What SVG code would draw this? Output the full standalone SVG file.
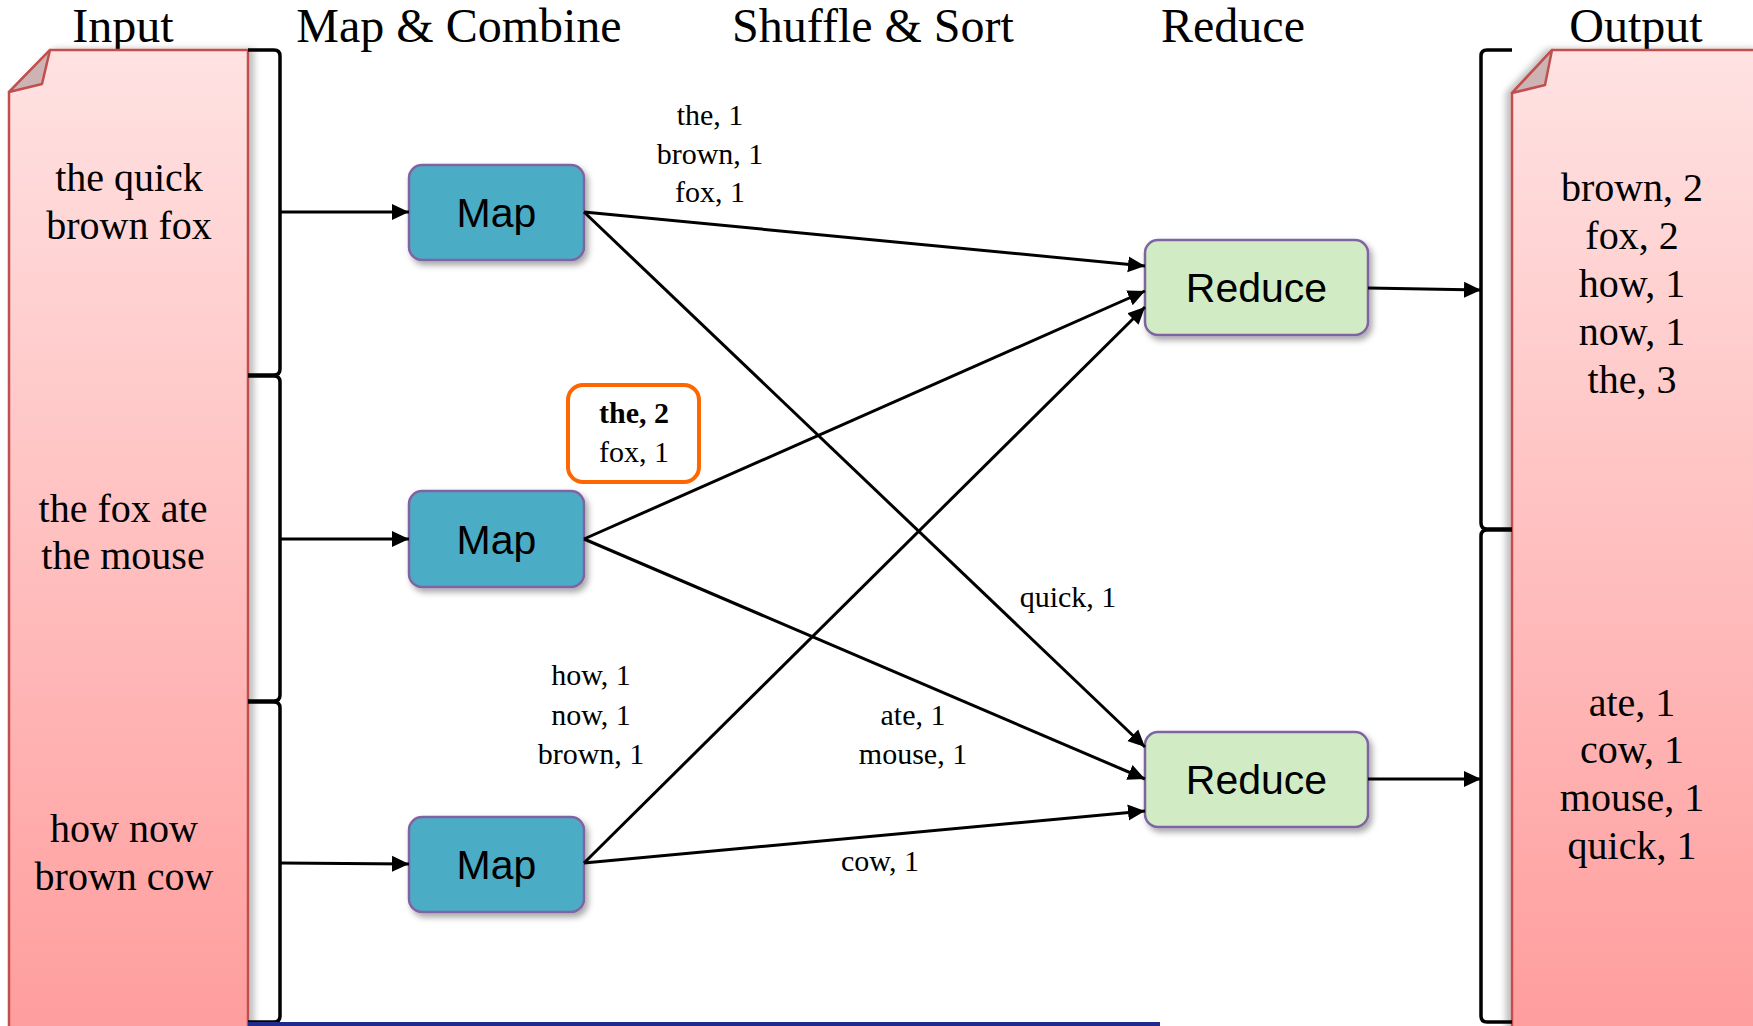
<svg xmlns="http://www.w3.org/2000/svg" width="1753" height="1026" viewBox="0 0 1753 1026">
<style>
.hdr{font-family:"Liberation Serif","Times New Roman",serif;font-size:48px;fill:#000;text-anchor:middle}
.doctext{font-family:"Liberation Serif","Times New Roman",serif;font-size:40px;fill:#000;text-anchor:middle}
.lbl{font-family:"Liberation Serif","Times New Roman",serif;font-size:30px;fill:#000;text-anchor:middle}
.box{font-family:"Liberation Sans",Arial,sans-serif;font-size:41px;fill:#000;text-anchor:middle}
.doc{fill:url(#docg);stroke:#C0504D;stroke-width:2.5}
.fold{fill:#CDB3B3;stroke:#C0504D;stroke-width:2.5;stroke-linejoin:round}
.brace{fill:none;stroke:#000;stroke-width:3.5}
.map{fill:#4BACC6;stroke:#8064A2;stroke-width:2.5}
.red{fill:#D1ECC5;stroke:#8064A2;stroke-width:2.5}
.edge{stroke:#000;stroke-width:3;fill:none;marker-end:url(#arr)}
</style>
<defs>
<linearGradient id="docg" x1="0" y1="0" x2="0" y2="1">
<stop offset="0" stop-color="#FFE2E2"/>
<stop offset="1" stop-color="#FF9D9D"/>
</linearGradient>
<filter id="sh" x="-20%" y="-20%" width="140%" height="150%">
<feDropShadow dx="3" dy="4" stdDeviation="3" flood-color="#000" flood-opacity="0.35"/>
</filter>
<filter id="shR" x="-10%" y="-5%" width="130%" height="110%">
<feDropShadow dx="5" dy="0" stdDeviation="3" flood-color="#000" flood-opacity="0.25"/>
</filter>
<filter id="shL" x="-20%" y="-5%" width="130%" height="110%">
<feDropShadow dx="-5" dy="0" stdDeviation="3" flood-color="#000" flood-opacity="0.25"/>
</filter>
<marker id="arr" markerUnits="userSpaceOnUse" markerWidth="18" markerHeight="18" refX="17" refY="8" orient="auto" viewBox="0 0 18 16">
<path d="M0,0 L17,8 L0,16 Z" fill="#000"/>
</marker>
</defs>
<rect width="1753" height="1026" fill="#fff"/>

<g id="headers">
<text class="hdr" x="123" y="42">Input</text>
<text class="hdr" x="459" y="42">Map &amp; Combine</text>
<text class="hdr" x="873" y="42">Shuffle &amp; Sort</text>
<text class="hdr" x="1233" y="42">Reduce</text>
<text class="hdr" x="1636" y="42">Output</text>
</g>

<g id="input">
<path class="doc" filter="url(#shR)" d="M50,50 L248,50 L248,1030 L9,1030 L9,92 Z"/>
<path class="fold" d="M50,50 L42,84 L9,92 Z"/>
<text class="doctext" x="129" y="191">the quick</text>
<text class="doctext" x="129" y="239">brown fox</text>
<text class="doctext" x="123" y="522">the fox ate</text>
<text class="doctext" x="123" y="569">the mouse</text>
<text class="doctext" x="124" y="842">how now</text>
<text class="doctext" x="124" y="890">brown cow</text>
</g>

<g id="input-brace">
<path class="brace" d="M248,50 L274,50 Q280,50 280,56 L280,369 Q280,375 274,375 L248,375"/>
<path class="brace" d="M248,376 L274,376 Q280,376 280,382 L280,695 Q280,701 274,701 L248,701"/>
<path class="brace" d="M248,702 L274,702 Q280,702 280,708 L280,1016 Q280,1022 274,1022 L248,1022"/>
</g>

<g id="output">
<path class="doc" filter="url(#shL)" d="M1552,50 L1760,50 L1760,1030 L1512,1030 L1512,93 Z"/>
<path class="fold" d="M1552,50 L1545,85 L1512,93 Z"/>
<text class="doctext" x="1632" y="201">brown, 2</text>
<text class="doctext" x="1632" y="249">fox, 2</text>
<text class="doctext" x="1632" y="297">how, 1</text>
<text class="doctext" x="1632" y="345">now, 1</text>
<text class="doctext" x="1632" y="393">the, 3</text>
<text class="doctext" x="1632" y="716">ate, 1</text>
<text class="doctext" x="1632" y="763">cow, 1</text>
<text class="doctext" x="1632" y="811">mouse, 1</text>
<text class="doctext" x="1632" y="859">quick, 1</text>
</g>

<g id="output-brace">
<path class="brace" d="M1512,50 L1487,50 Q1481,50 1481,56 L1481,523 Q1481,529 1487,529 L1512,529"/>
<path class="brace" d="M1512,530 L1487,530 Q1481,530 1481,536 L1481,1016 Q1481,1022 1487,1022 L1512,1022"/>
</g>

<g id="map1">
<rect class="map" filter="url(#sh)" x="409" y="165" width="175" height="95" rx="13"/>
<text class="box" x="496.5" y="227">Map</text>
</g>
<g id="map2">
<rect class="map" filter="url(#sh)" x="409" y="491" width="175" height="96" rx="13"/>
<text class="box" x="496.5" y="554">Map</text>
</g>
<g id="map3">
<rect class="map" filter="url(#sh)" x="409" y="817" width="175" height="95" rx="13"/>
<text class="box" x="496.5" y="879">Map</text>
</g>
<g id="reduce1">
<rect class="red" filter="url(#sh)" x="1145" y="240" width="223" height="95" rx="13"/>
<text class="box" x="1256.5" y="302">Reduce</text>
</g>
<g id="reduce2">
<rect class="red" filter="url(#sh)" x="1145" y="732" width="223" height="95" rx="13"/>
<text class="box" x="1256.5" y="794">Reduce</text>
</g>

<g id="combiner">
<rect x="568" y="385" width="131" height="97" rx="15" fill="#fff" stroke="#FF6600" stroke-width="4"/>
<text class="lbl" x="634" y="423" font-weight="bold">the, 2</text>
<text class="lbl" x="634" y="462">fox, 1</text>
</g>

<g id="connectors">
<line class="edge" x1="280" y1="212" x2="409" y2="212"/>
<line class="edge" x1="280" y1="539" x2="409" y2="539"/>
<line class="edge" x1="280" y1="863" x2="409" y2="864"/>
<line class="edge" x1="584" y1="212" x2="1145" y2="266"/>
<line class="edge" x1="584" y1="212" x2="1145" y2="747"/>
<line class="edge" x1="584" y1="539" x2="1145" y2="291"/>
<line class="edge" x1="584" y1="539" x2="1145" y2="779"/>
<line class="edge" x1="584" y1="863" x2="1145" y2="307"/>
<line class="edge" x1="584" y1="863" x2="1145" y2="811"/>
<line class="edge" x1="1368" y1="288" x2="1481" y2="290"/>
<line class="edge" x1="1368" y1="779" x2="1481" y2="779"/>
</g>

<g id="labels">
<text class="lbl" x="710" y="125">the, 1</text>
<text class="lbl" x="710" y="164">brown, 1</text>
<text class="lbl" x="710" y="202">fox, 1</text>
<text class="lbl" x="1068" y="607">quick, 1</text>
<text class="lbl" x="591" y="685">how, 1</text>
<text class="lbl" x="591" y="725">now, 1</text>
<text class="lbl" x="591" y="764">brown, 1</text>
<text class="lbl" x="913" y="725">ate, 1</text>
<text class="lbl" x="913" y="764">mouse, 1</text>
<text class="lbl" x="880" y="871">cow, 1</text>
</g>

<rect id="footer-bar" x="248" y="1022" width="912" height="4" fill="#1F2A8F"/>
</svg>
